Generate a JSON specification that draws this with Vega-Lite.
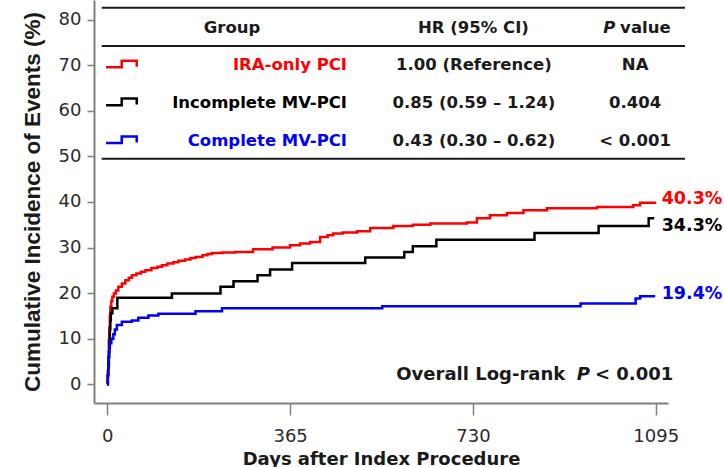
{
  "$schema": "https://vega.github.io/schema/vega-lite/v6.json",
  "width": 574,
  "height": 403,
  "autosize": {"type": "none"},
  "padding": {"left": 94, "top": 0, "right": 56, "bottom": 64},
  "background": "white",
  "config": {
    "view": {"stroke": null},
    "axis": {"grid": false, "domainColor": "#808080", "domainWidth": 2, "tickColor": "#808080", "tickWidth": 1.5, "labelFont": "DejaVu Sans", "labelFontSize": 18, "labelColor": "#2b2b2b", "titleColor": "#1a1a1a"}
  },
  "datasets": {
    "curves": [
      {"group": "IRA-only PCI", "day": 0, "pct": 0},
      {"group": "IRA-only PCI", "day": 1, "pct": 3},
      {"group": "IRA-only PCI", "day": 2, "pct": 6},
      {"group": "IRA-only PCI", "day": 3, "pct": 9.7},
      {"group": "IRA-only PCI", "day": 4, "pct": 12.5},
      {"group": "IRA-only PCI", "day": 5, "pct": 15},
      {"group": "IRA-only PCI", "day": 6, "pct": 17},
      {"group": "IRA-only PCI", "day": 8, "pct": 18.3},
      {"group": "IRA-only PCI", "day": 10, "pct": 19.2},
      {"group": "IRA-only PCI", "day": 13, "pct": 19.9},
      {"group": "IRA-only PCI", "day": 17, "pct": 20.6},
      {"group": "IRA-only PCI", "day": 22, "pct": 21.4},
      {"group": "IRA-only PCI", "day": 29, "pct": 22.1},
      {"group": "IRA-only PCI", "day": 36, "pct": 22.8},
      {"group": "IRA-only PCI", "day": 43, "pct": 23.4},
      {"group": "IRA-only PCI", "day": 49, "pct": 23.9},
      {"group": "IRA-only PCI", "day": 58, "pct": 24.3},
      {"group": "IRA-only PCI", "day": 67, "pct": 24.7},
      {"group": "IRA-only PCI", "day": 76, "pct": 25.0},
      {"group": "IRA-only PCI", "day": 88, "pct": 25.5},
      {"group": "IRA-only PCI", "day": 100, "pct": 25.8},
      {"group": "IRA-only PCI", "day": 109, "pct": 26.1},
      {"group": "IRA-only PCI", "day": 120, "pct": 26.5},
      {"group": "IRA-only PCI", "day": 132, "pct": 26.8},
      {"group": "IRA-only PCI", "day": 142, "pct": 27.1},
      {"group": "IRA-only PCI", "day": 155, "pct": 27.4},
      {"group": "IRA-only PCI", "day": 166, "pct": 27.7},
      {"group": "IRA-only PCI", "day": 176, "pct": 27.9},
      {"group": "IRA-only PCI", "day": 190, "pct": 28.3},
      {"group": "IRA-only PCI", "day": 200, "pct": 28.6},
      {"group": "IRA-only PCI", "day": 209, "pct": 28.8},
      {"group": "IRA-only PCI", "day": 230, "pct": 28.9},
      {"group": "IRA-only PCI", "day": 255, "pct": 29.0},
      {"group": "IRA-only PCI", "day": 291, "pct": 29.6},
      {"group": "IRA-only PCI", "day": 330, "pct": 30.0},
      {"group": "IRA-only PCI", "day": 365, "pct": 30.5},
      {"group": "IRA-only PCI", "day": 385, "pct": 30.9},
      {"group": "IRA-only PCI", "day": 405, "pct": 31.2},
      {"group": "IRA-only PCI", "day": 425, "pct": 32.3},
      {"group": "IRA-only PCI", "day": 440, "pct": 32.7},
      {"group": "IRA-only PCI", "day": 451, "pct": 33.1},
      {"group": "IRA-only PCI", "day": 470, "pct": 33.3},
      {"group": "IRA-only PCI", "day": 499, "pct": 33.6},
      {"group": "IRA-only PCI", "day": 525, "pct": 34.3},
      {"group": "IRA-only PCI", "day": 571, "pct": 34.7},
      {"group": "IRA-only PCI", "day": 610, "pct": 35.0},
      {"group": "IRA-only PCI", "day": 645, "pct": 35.3},
      {"group": "IRA-only PCI", "day": 718, "pct": 35.5},
      {"group": "IRA-only PCI", "day": 738, "pct": 36.4},
      {"group": "IRA-only PCI", "day": 764, "pct": 37.1},
      {"group": "IRA-only PCI", "day": 798, "pct": 37.6},
      {"group": "IRA-only PCI", "day": 831, "pct": 38.2},
      {"group": "IRA-only PCI", "day": 878, "pct": 38.6},
      {"group": "IRA-only PCI", "day": 978, "pct": 38.9},
      {"group": "IRA-only PCI", "day": 1050, "pct": 39.3},
      {"group": "IRA-only PCI", "day": 1064, "pct": 39.8},
      {"group": "IRA-only PCI", "day": 1096, "pct": 39.8},
      {"group": "Incomplete MV-PCI", "day": 0, "pct": 0},
      {"group": "Incomplete MV-PCI", "day": 1, "pct": 2},
      {"group": "Incomplete MV-PCI", "day": 2, "pct": 4.5},
      {"group": "Incomplete MV-PCI", "day": 3, "pct": 7},
      {"group": "Incomplete MV-PCI", "day": 4, "pct": 9.5},
      {"group": "Incomplete MV-PCI", "day": 5, "pct": 12},
      {"group": "Incomplete MV-PCI", "day": 6, "pct": 14},
      {"group": "Incomplete MV-PCI", "day": 7, "pct": 15.6},
      {"group": "Incomplete MV-PCI", "day": 10, "pct": 16.7},
      {"group": "Incomplete MV-PCI", "day": 20, "pct": 19.0},
      {"group": "Incomplete MV-PCI", "day": 129, "pct": 19.9},
      {"group": "Incomplete MV-PCI", "day": 226, "pct": 21.4},
      {"group": "Incomplete MV-PCI", "day": 252, "pct": 22.6},
      {"group": "Incomplete MV-PCI", "day": 300, "pct": 23.9},
      {"group": "Incomplete MV-PCI", "day": 325, "pct": 25.2},
      {"group": "Incomplete MV-PCI", "day": 369, "pct": 26.6},
      {"group": "Incomplete MV-PCI", "day": 515, "pct": 27.8},
      {"group": "Incomplete MV-PCI", "day": 593, "pct": 29.0},
      {"group": "Incomplete MV-PCI", "day": 610, "pct": 30.3},
      {"group": "Incomplete MV-PCI", "day": 657, "pct": 31.7},
      {"group": "Incomplete MV-PCI", "day": 853, "pct": 33.2},
      {"group": "Incomplete MV-PCI", "day": 981, "pct": 34.7},
      {"group": "Incomplete MV-PCI", "day": 1081, "pct": 36.4},
      {"group": "Incomplete MV-PCI", "day": 1092, "pct": 36.4},
      {"group": "Complete MV-PCI", "day": 0, "pct": 0},
      {"group": "Complete MV-PCI", "day": 1, "pct": 2},
      {"group": "Complete MV-PCI", "day": 2, "pct": 4},
      {"group": "Complete MV-PCI", "day": 3, "pct": 6},
      {"group": "Complete MV-PCI", "day": 4, "pct": 8},
      {"group": "Complete MV-PCI", "day": 5, "pct": 9},
      {"group": "Complete MV-PCI", "day": 8, "pct": 10},
      {"group": "Complete MV-PCI", "day": 12, "pct": 11},
      {"group": "Complete MV-PCI", "day": 15, "pct": 12},
      {"group": "Complete MV-PCI", "day": 19, "pct": 13},
      {"group": "Complete MV-PCI", "day": 29, "pct": 13.7},
      {"group": "Complete MV-PCI", "day": 49, "pct": 14.0},
      {"group": "Complete MV-PCI", "day": 62, "pct": 14.6},
      {"group": "Complete MV-PCI", "day": 82, "pct": 15.1},
      {"group": "Complete MV-PCI", "day": 102, "pct": 15.5},
      {"group": "Complete MV-PCI", "day": 176, "pct": 16.0},
      {"group": "Complete MV-PCI", "day": 229, "pct": 16.7},
      {"group": "Complete MV-PCI", "day": 549, "pct": 17.1},
      {"group": "Complete MV-PCI", "day": 945, "pct": 17.7},
      {"group": "Complete MV-PCI", "day": 1055, "pct": 18.8},
      {"group": "Complete MV-PCI", "day": 1064, "pct": 19.3},
      {"group": "Complete MV-PCI", "day": 1094, "pct": 19.3}
    ],
    "ends": [
      {"group": "IRA-only PCI", "day": 1095, "pct": 40.3, "label": "40.3%"},
      {"group": "Incomplete MV-PCI", "day": 1095, "pct": 34.3, "label": "34.3%"},
      {"group": "Complete MV-PCI", "day": 1095, "pct": 19.4, "label": "19.4%"}
    ],
    "table": [
      {"row": 1, "group": "IRA-only PCI", "hr": "1.00 (Reference)", "p": "NA"},
      {"row": 2, "group": "Incomplete MV-PCI", "hr": "0.85 (0.59 – 1.24)", "p": "0.404"},
      {"row": 3, "group": "Complete MV-PCI", "hr": "0.43 (0.30 – 0.62)", "p": "< 0.001"}
    ]
  },
  "layer": [
    {
      "layer": [
        {
          "data": {"name": "curves"},
          "mark": {"type": "line", "interpolate": "step-after", "strokeWidth": 2.5},
          "encoding": {
            "x": {"field": "day", "type": "quantitative", "scale": {"domain": [-26.6, 1119.6], "nice": false, "zero": false},
              "axis": {"values": [0, 365, 730, 1095], "format": "d", "tickSize": 12, "labelPadding": 12, "title": "Days after Index Procedure", "titleFont": "DejaVu Sans", "titleFontSize": 18, "titleFontWeight": "bold", "titlePadding": 5, "labelFlush": false}},
            "y": {"field": "pct", "type": "quantitative", "scale": {"domain": [-4.1, 84.3], "nice": false, "zero": false},
              "axis": {"values": [0, 10, 20, 30, 40, 50, 60, 70, 80], "tickSize": 7, "labelPadding": 6, "title": "Cumulative Incidence of Events (%)", "titleFont": "Liberation Sans", "titleFontSize": 22.5, "titleFontWeight": "bold", "titlePadding": 14}},
            "color": {"field": "group", "type": "nominal", "scale": {"domain": ["IRA-only PCI", "Incomplete MV-PCI", "Complete MV-PCI"], "range": ["#ff0000", "#000000", "#0000ff"]}, "legend": null}
          }
        },
        {
          "data": {"name": "ends"},
          "mark": {"type": "text", "align": "left", "baseline": "middle", "dx": 6, "dy": -2, "font": "DejaVu Sans", "fontSize": 17.5, "fontWeight": "bold"},
          "encoding": {
            "x": {"field": "day", "type": "quantitative"},
            "y": {"field": "pct", "type": "quantitative"},
            "text": {"field": "label"},
            "color": {"field": "group", "type": "nominal"}
          }
        },
        {
          "data": {"values": [{"line": "top"}]},
          "mark": {"type": "rule", "strokeWidth": 2, "color": "#1a1a1a"},
          "encoding": {"x": {"datum": -11.2}, "x2": {"datum": 1153.5}, "y": {"datum": 82.6}}
        },
        {
          "data": {"values": [{"line": "header"}]},
          "mark": {"type": "rule", "strokeWidth": 2, "color": "#1a1a1a"},
          "encoding": {"x": {"datum": -11.2}, "x2": {"datum": 1153.5}, "y": {"datum": 74.2}}
        },
        {
          "data": {"values": [{"line": "bottom"}]},
          "mark": {"type": "rule", "strokeWidth": 2, "color": "#1a1a1a"},
          "encoding": {"x": {"datum": -11.2}, "x2": {"datum": 1153.5}, "y": {"datum": 49.5}}
        },
        {
          "data": {"values": [{"text": "Overall Log-rank"}]},
          "mark": {"type": "text", "align": "right", "baseline": "alphabetic", "font": "DejaVu Sans", "fontSize": 18, "fontWeight": "bold", "color": "#1a1a1a"},
          "encoding": {"x": {"datum": 914.3}, "y": {"datum": 0.94}, "text": {"field": "text"}}
        },
        {
          "data": {"values": [{"text": "P"}]},
          "mark": {"type": "text", "align": "left", "baseline": "alphabetic", "font": "DejaVu Sans", "fontSize": 18, "fontWeight": "bold", "fontStyle": "italic", "color": "#1a1a1a"},
          "encoding": {"x": {"datum": 937.3}, "y": {"datum": 0.94}, "text": {"field": "text"}}
        },
        {
          "data": {"values": [{"text": "< 0.001"}]},
          "mark": {"type": "text", "align": "left", "baseline": "alphabetic", "font": "DejaVu Sans", "fontSize": 18, "fontWeight": "bold", "color": "#1a1a1a"},
          "encoding": {"x": {"datum": 973.8}, "y": {"datum": 0.94}, "text": {"field": "text"}}
        }
      ]
    },
    {
      "data": {"name": "table"},
      "layer": [
        {
          "mark": {"type": "point", "shape": "M-1,0.13L0.02,0.13L0.02,-0.30L1,-0.30L1,0.09", "filled": false, "size": 942, "strokeWidth": 2.5, "opacity": 1},
          "encoding": {
            "x": {"datum": 28.1},
            "y": {"field": "row", "type": "ordinal", "scale": {"type": "point", "domain": [0, 1, 2, 3], "range": [27.5, 141], "padding": 0}, "axis": null},
            "color": {"field": "group", "type": "nominal"}
          }
        },
        {
          "mark": {"type": "text", "align": "right", "baseline": "middle", "font": "DejaVu Sans", "fontSize": 16.5, "fontWeight": "bold"},
          "encoding": {
            "x": {"datum": 478.6},
            "y": {"field": "row", "type": "ordinal"},
            "text": {"field": "group"},
            "color": {"field": "group", "type": "nominal"}
          }
        },
        {
          "mark": {"type": "text", "align": "center", "baseline": "middle", "font": "DejaVu Sans", "fontSize": 16.5, "fontWeight": "bold", "color": "#1a1a1a"},
          "encoding": {
            "x": {"datum": 732},
            "y": {"field": "row", "type": "ordinal"},
            "text": {"field": "hr"}
          }
        },
        {
          "mark": {"type": "text", "align": "center", "baseline": "middle", "font": "DejaVu Sans", "fontSize": 16.5, "fontWeight": "bold", "color": "#1a1a1a"},
          "encoding": {
            "x": {"datum": 1054},
            "y": {"field": "row", "type": "ordinal"},
            "text": {"field": "p"}
          }
        },
        {
          "data": {"values": [{"row": 0, "text": "Group"}]},
          "mark": {"type": "text", "align": "center", "baseline": "middle", "font": "DejaVu Sans", "fontSize": 16.5, "fontWeight": "bold", "color": "#1a1a1a"},
          "encoding": {"x": {"datum": 249}, "y": {"field": "row", "type": "ordinal"}, "text": {"field": "text"}}
        },
        {
          "data": {"values": [{"row": 0, "text": "HR (95% CI)"}]},
          "mark": {"type": "text", "align": "center", "baseline": "middle", "font": "DejaVu Sans", "fontSize": 16.5, "fontWeight": "bold", "color": "#1a1a1a"},
          "encoding": {"x": {"datum": 731}, "y": {"field": "row", "type": "ordinal"}, "text": {"field": "text"}}
        },
        {
          "data": {"values": [{"row": 0, "text": "P"}]},
          "mark": {"type": "text", "align": "right", "baseline": "middle", "font": "DejaVu Sans", "fontSize": 16.5, "fontWeight": "bold", "fontStyle": "italic", "color": "#1a1a1a"},
          "encoding": {"x": {"datum": 1014.7}, "y": {"field": "row", "type": "ordinal"}, "text": {"field": "text"}}
        },
        {
          "data": {"values": [{"row": 0, "text": "value"}]},
          "mark": {"type": "text", "align": "left", "baseline": "middle", "font": "DejaVu Sans", "fontSize": 16.5, "fontWeight": "bold", "color": "#1a1a1a"},
          "encoding": {"x": {"datum": 1024}, "y": {"field": "row", "type": "ordinal"}, "text": {"field": "text"}}
        }
      ]
    }
  ],
  "resolve": {"scale": {"y": "independent"}}
}
